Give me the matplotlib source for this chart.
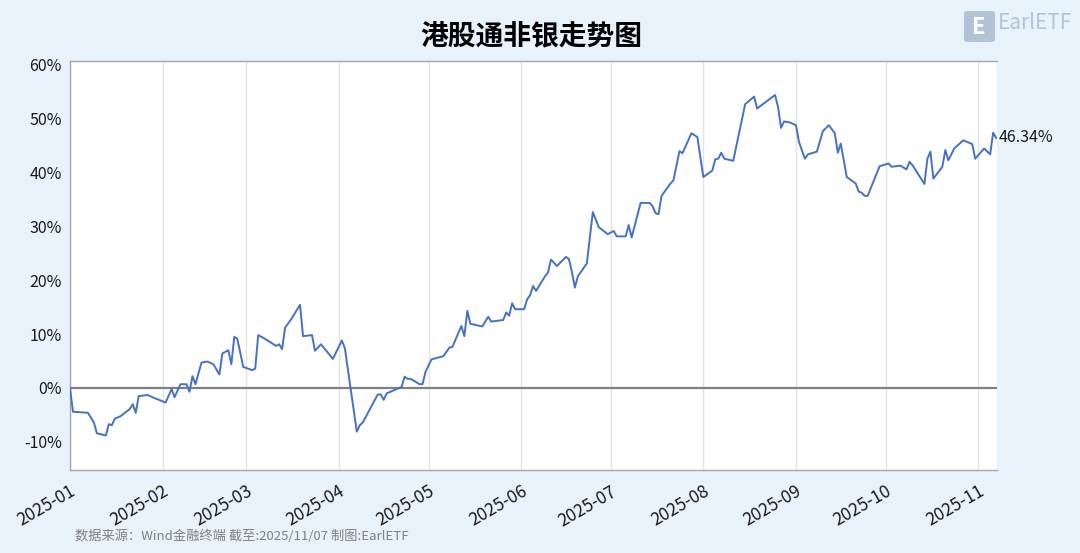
import matplotlib.pyplot as plt
import matplotlib.dates as mdates
import pandas as pd
from matplotlib.patches import FancyBboxPatch
from matplotlib.ticker import FuncFormatter

plt.rcParams['font.family'] = ['Noto Sans CJK SC', 'DejaVu Sans']

# 港股通非银 累计涨跌幅 (%)
dates = [
    "2025-01-01", "2025-01-02", "2025-01-07", "2025-01-08", "2025-01-09", "2025-01-10",
    "2025-01-13", "2025-01-14", "2025-01-15", "2025-01-16", "2025-01-18", "2025-01-21",
    "2025-01-22", "2025-01-23", "2025-01-24", "2025-01-27", "2025-01-29",
    "2025-02-02", "2025-02-04", "2025-02-05", "2025-02-07", "2025-02-09", "2025-02-10",
    "2025-02-11", "2025-02-12", "2025-02-14", "2025-02-16", "2025-02-18", "2025-02-20",
    "2025-02-21", "2025-02-23", "2025-02-24", "2025-02-25", "2025-02-26", "2025-02-28",
    "2025-03-03", "2025-03-04", "2025-03-05", "2025-03-07", "2025-03-11", "2025-03-12",
    "2025-03-13", "2025-03-14", "2025-03-16", "2025-03-19", "2025-03-20", "2025-03-23",
    "2025-03-24", "2025-03-26", "2025-03-30",
    "2025-04-02", "2025-04-03", "2025-04-07", "2025-04-08", "2025-04-09", "2025-04-14",
    "2025-04-15", "2025-04-16", "2025-04-17", "2025-04-22", "2025-04-23", "2025-04-24",
    "2025-04-25", "2025-04-28", "2025-04-29", "2025-04-30",
    "2025-05-02", "2025-05-06", "2025-05-08", "2025-05-09", "2025-05-12", "2025-05-13",
    "2025-05-14", "2025-05-15", "2025-05-19", "2025-05-21", "2025-05-22", "2025-05-26",
    "2025-05-27", "2025-05-28", "2025-05-29", "2025-05-30",
    "2025-06-02", "2025-06-03", "2025-06-04", "2025-06-05", "2025-06-06", "2025-06-09",
    "2025-06-10", "2025-06-11", "2025-06-13", "2025-06-16", "2025-06-17", "2025-06-18",
    "2025-06-19", "2025-06-20", "2025-06-23", "2025-06-25", "2025-06-27", "2025-06-30",
    "2025-07-02", "2025-07-03", "2025-07-06", "2025-07-07", "2025-07-08", "2025-07-11",
    "2025-07-14", "2025-07-15", "2025-07-16", "2025-07-17", "2025-07-18", "2025-07-21",
    "2025-07-22", "2025-07-24", "2025-07-25", "2025-07-28", "2025-07-30",
    "2025-08-01", "2025-08-04", "2025-08-05", "2025-08-06", "2025-08-07", "2025-08-08",
    "2025-08-11", "2025-08-15", "2025-08-18", "2025-08-19", "2025-08-25", "2025-08-26",
    "2025-08-27", "2025-08-28", "2025-08-30",
    "2025-09-01", "2025-09-02", "2025-09-04", "2025-09-05", "2025-09-08", "2025-09-10",
    "2025-09-12", "2025-09-14", "2025-09-15", "2025-09-16", "2025-09-18", "2025-09-21",
    "2025-09-22", "2025-09-23", "2025-09-24", "2025-09-25", "2025-09-29",
    "2025-10-02", "2025-10-03", "2025-10-06", "2025-10-08", "2025-10-09", "2025-10-10",
    "2025-10-14", "2025-10-15", "2025-10-16", "2025-10-17", "2025-10-20", "2025-10-21",
    "2025-10-22", "2025-10-24", "2025-10-27", "2025-10-30", "2025-10-31",
    "2025-11-03", "2025-11-05", "2025-11-06", "2025-11-07",
]
values = [
    0.0, -4.4, -4.6, -5.5, -6.4, -8.4,
    -8.8, -6.7, -6.9, -5.7, -5.2, -3.9,
    -3.0, -4.6, -1.5, -1.3, -1.8,
    -2.7, -0.2, -1.7, 0.7, 0.7, -0.7,
    2.2, 0.7, 4.7, 4.9, 4.4, 2.5,
    6.4, 7.0, 4.4, 9.5, 9.1, 3.9,
    3.3, 3.6, 9.8, 9.2, 7.8, 8.1,
    7.2, 11.2, 12.7, 15.4, 9.6, 9.8,
    6.9, 8.1, 5.4,
    8.8, 7.4, -8.1, -6.9, -6.4, -1.2,
    -1.2, -2.2, -1.0, 0.2, 2.1, 1.7,
    1.7, 0.7, 0.7, 3.0,
    5.3, 5.9, 7.5, 7.6, 11.5, 9.6,
    14.3, 11.9, 11.4, 13.2, 12.3, 12.6,
    14.0, 13.4, 15.7, 14.6,
    14.6, 16.4, 17.2, 18.9, 18.0, 20.7,
    21.4, 23.8, 22.6, 24.3, 23.9, 21.5,
    18.6, 20.7, 23.1, 32.6, 29.8, 28.5,
    29.1, 28.1, 28.1, 30.2, 27.9, 34.3,
    34.3, 33.7, 32.4, 32.2, 35.6, 37.9,
    38.5, 43.9, 43.5, 47.2, 46.5,
    39.1, 40.3, 42.4, 42.5, 43.6, 42.5,
    42.1, 52.6, 54.0, 51.8, 54.3, 52.1,
    48.2, 49.4, 49.2,
    48.7, 45.6, 42.5, 43.3, 43.8, 47.6,
    48.7, 47.2, 43.6, 45.3, 39.1, 37.9,
    36.4, 36.2, 35.6, 35.6, 41.1,
    41.6, 41.0, 41.2, 40.5, 41.9, 41.3,
    37.8, 42.5, 43.8, 38.8, 41.0, 44.1,
    42.2, 44.4, 45.9, 45.2, 42.5,
    44.4, 43.3, 47.3, 46.34,
]
month_ticks = ["2025-01", "2025-02", "2025-03", "2025-04", "2025-05", "2025-06",
               "2025-07", "2025-08", "2025-09", "2025-10", "2025-11"]

x = pd.to_datetime(dates)
y = [v / 100 for v in values]

bg = '#E8F2FB'
fig = plt.figure(figsize=(10.8, 5.53), dpi=100, facecolor=bg)
ax = fig.add_axes([70 / 1080, 1 - 470 / 553, 927 / 1080, 409 / 553])
ax.set_facecolor('white')

tick_dates = pd.to_datetime([m + "-01" for m in month_ticks])
for d in tick_dates:
    ax.axvline(d, color='#E3E3E3', lw=1, zorder=0)
ax.axhline(0, color='#808080', lw=1.6, zorder=1)

ax.plot(x, y, color='#4472C4', lw=1.4, zorder=3)

ax.set_xlim(pd.Timestamp("2025-01-01"), pd.Timestamp("2025-11-07 07:00"))
ax.set_ylim(-0.152, 0.606)
ax.set_yticks([-0.1, 0, 0.1, 0.2, 0.3, 0.4, 0.5, 0.6])
ax.yaxis.set_major_formatter(FuncFormatter(lambda v, p: f"{v * 100:.0f}%"))
ax.set_xticks(tick_dates)
ax.set_xticklabels(month_ticks, rotation=30, ha='right', rotation_mode='anchor')
ax.tick_params(axis='both', length=0, colors='#1A1A1A')
ax.tick_params(axis='x', pad=9, labelsize=12.5)
ax.tick_params(axis='y', pad=6, labelsize=11.5)

for side in ['left', 'bottom', 'top']:
    ax.spines[side].set_color('#A6A6A6')
    ax.spines[side].set_linewidth(1)
ax.spines['right'].set_visible(False)

ax.annotate(f"{values[-1]:.2f}%", xy=(x[-1], y[-1]), xytext=(2, 0),
            textcoords='offset points', ha='left', va='center', fontsize=11.5,
            color='#1A1A1A', annotation_clip=False)

fig.text(531 / 1080, 1 - 36 / 553, "港股通非银走势图", ha='center', va='center',
         fontsize=20, fontweight='heavy', color='black')

# logo
fig.patches.append(FancyBboxPatch((964 / 1080, 1 - 42 / 553), 31 / 1080, 31 / 553,
                                  boxstyle='round,pad=0,rounding_size=0.004',
                                  transform=fig.transFigure, facecolor='#B3C3D6',
                                  edgecolor='none'))
fig.text(979 / 1080, 1 - 27 / 553, "E", ha='center', va='center', fontsize=16,
         fontweight='bold', color='white')
fig.text(998 / 1080, 1 - 23 / 553, "EarlETF", ha='left', va='center', fontsize=15,
         color='#B3C3D6')

fig.text(75 / 1080, 1 - 536 / 553, "数据来源：Wind金融终端 截至:2025/11/07 制图:EarlETF",
         ha='left', va='center', fontsize=9.5, color='#808080')

fig.savefig('out.png', dpi=100, facecolor=bg)
